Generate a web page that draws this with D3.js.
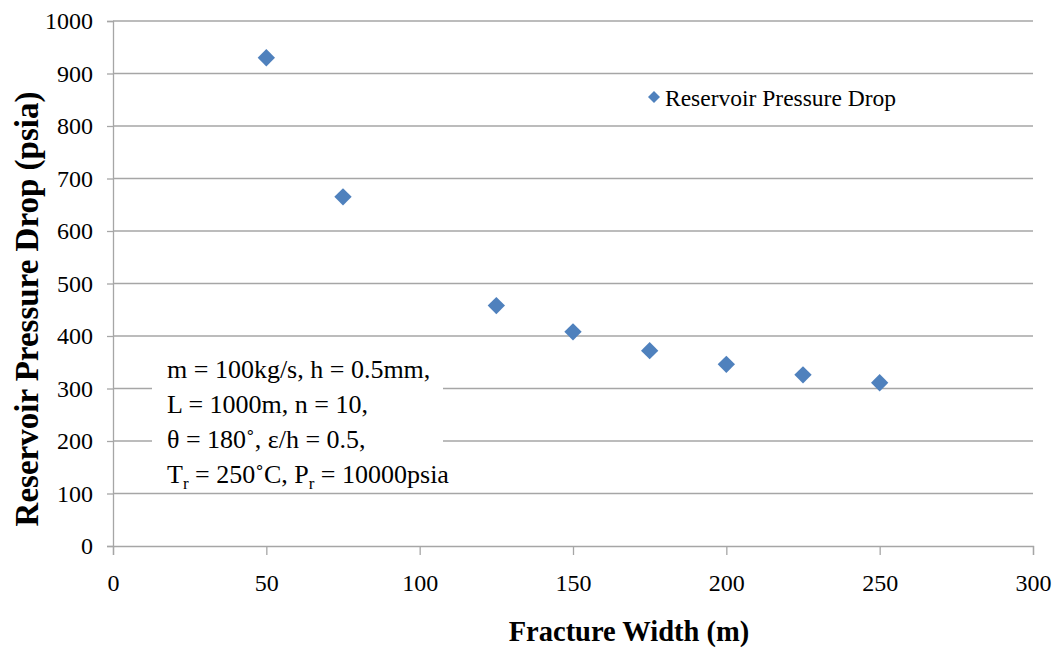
<!DOCTYPE html>
<html>
<head>
<meta charset="utf-8">
<script src="https://cdn.jsdelivr.net/npm/d3@7"></script>
<style>
  body { margin: 0; background: #fff; }
  svg { display: block; font-family: "Liberation Serif", "Times New Roman", serif; }
</style>
</head>
<body>
<svg id="chart" width="1059" height="648"></svg>
<script>
// dati
const widths = [50, 75, 125, 150, 175, 200, 225, 250];
const pressureDrop = [930, 665, 458, 408, 372, 346, 326, 311];
const xTicks = [0, 50, 100, 150, 200, 250, 300];
const yTicks = [0, 100, 200, 300, 400, 500, 600, 700, 800, 900, 1000];
const seriesName = 'Reservoir Pressure Drop';
const noteLines = [
  ['m = 100kg/s, h = 0.5mm,'],
  ['L = 1000m, n = 10,'],
  ['θ = 180˚, ε/h = 0.5,'],
  ['T', 'r', ' = 250˚C, P', 'r', ' = 10000psia']
];

const svg = d3.select('#chart');
const plot = { left: 113, right: 1033, top: 21, bottom: 546 };
const gray = '#a6a6a6';
const blue = '#4f81bd';

const x = d3.scaleLinear().domain([0, 300]).range([plot.left, plot.right]);
const y = d3.scaleLinear().domain([0, 1000]).range([plot.bottom, plot.top]);

// griglia orizzontale
svg.append('g')
  .selectAll('line')
  .data(yTicks.filter(d => d > 0))
  .enter().append('line')
  .attr('x1', plot.left).attr('x2', plot.right)
  .attr('y1', d => y(d)).attr('y2', d => y(d))
  .attr('stroke', gray).attr('stroke-width', 1.3);

// asse y
const yAxis = svg.append('g')
  .attr('transform', `translate(${plot.left},0)`)
  .call(d3.axisLeft(y).tickValues(yTicks).tickSize(6).tickPadding(14).tickFormat(d3.format('d')));
yAxis.select('.domain').attr('stroke', gray).attr('stroke-width', 1.3);
yAxis.selectAll('.tick line').attr('stroke', gray).attr('stroke-width', 1.3);
yAxis.selectAll('text').style('font-size', '24px').style('fill', '#000');
yAxis.attr('font-family', null).attr('font-size', null);

// asse x
const xAxis = svg.append('g')
  .attr('transform', `translate(0,${plot.bottom})`)
  .call(d3.axisBottom(x).tickValues(xTicks).tickSize(9).tickPadding(19));
xAxis.select('.domain').attr('stroke', gray).attr('stroke-width', 1.3);
xAxis.selectAll('.tick line').attr('stroke', gray).attr('stroke-width', 1.3);
xAxis.selectAll('text').style('font-size', '24px').style('fill', '#000');
xAxis.attr('font-family', null).attr('font-size', null);

// riquadro delle note
svg.append('rect')
  .attr('x', 152).attr('y', 345).attr('width', 291).attr('height', 146)
  .attr('fill', '#fff');

const note = svg.append('text')
  .attr('x', 167)
  .style('font-size', '26px');
noteLines.forEach((parts, i) => {
  parts.forEach((p, j) => {
    const t = note.append('tspan').text(p);
    if (j === 0) t.attr('x', 167).attr('y', 378 + i * 35);
    if (parts.length > 1 && (j === 1 || j === 3)) {
      t.attr('dy', 6).style('font-size', '17px');
    } else if (parts.length > 1 && (j === 2 || j === 4)) {
      t.attr('dy', -6);
    }
  });
});

// punti (rombi = quadrati ruotati)
const diamond = d3.symbol().type(d3.symbolSquare).size(150);
svg.append('g')
  .selectAll('path')
  .data(widths.map((w, i) => ({ w, p: pressureDrop[i] })))
  .enter().append('path')
  .attr('d', diamond)
  .attr('transform', d => `translate(${x(d.w)},${y(d.p)}) rotate(45)`)
  .attr('fill', blue);

// legenda
svg.append('path')
  .attr('d', d3.symbol().type(d3.symbolSquare).size(72))
  .attr('transform', 'translate(654,97) rotate(45)')
  .attr('fill', blue);
svg.append('text')
  .attr('x', 665).attr('y', 106)
  .style('font-size', '23.5px')
  .text(seriesName);

// titoli degli assi
svg.append('text')
  .attr('x', 629).attr('y', 641)
  .attr('text-anchor', 'middle')
  .style('font-size', '28.5px').style('font-weight', 'bold')
  .text('Fracture Width (m)');

svg.append('text')
  .attr('transform', 'translate(38,309) rotate(-90)')
  .attr('text-anchor', 'middle')
  .style('font-size', '33px').style('font-weight', 'bold')
  .text('Reservoir Pressure Drop (psia)');
</script>
</body>
</html>
